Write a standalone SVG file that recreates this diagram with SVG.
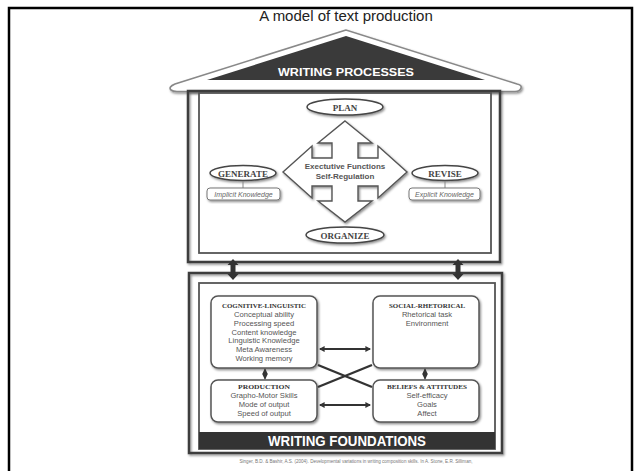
<svg xmlns="http://www.w3.org/2000/svg" width="640" height="471" viewBox="0 0 640 471">
  <defs>
    <filter id="shadow" x="-10%" y="-10%" width="130%" height="140%">
      <feDropShadow dx="1.2" dy="1.5" stdDeviation="0.9" flood-color="#000" flood-opacity="0.45"/>
    </filter>
    <marker id="head" viewBox="0 0 10 10" refX="8" refY="5" markerWidth="3.2" markerHeight="3.2" orient="auto-start-reverse">
      <path d="M0,0 L10,5 L0,10 z" fill="#333"/>
    </marker>
    <style>
      .title { font-family: "Liberation Sans", Arial, sans-serif; font-size: 15px; fill: #222; }
      .banner { font-family: "Liberation Sans", Arial, sans-serif; font-weight: bold; fill: #fff; }
      .oval { fill: #fff; stroke: #444; stroke-width: 1.5; filter: url(#shadow); }
      .oval-label { font-family: "Liberation Serif", "Times New Roman", serif; font-weight: bold; font-size: 9px; fill: #444; text-anchor: middle; }
      .know { fill: #fff; stroke: #777; stroke-width: 1; filter: url(#shadow); }
      .know-label { font-family: "Liberation Sans", Arial, sans-serif; font-style: italic; font-size: 7px; fill: #666; text-anchor: middle; }
      .box { fill: #fff; stroke: #555; stroke-width: 1.5; filter: url(#shadow); }
      .head-label { font-family: "Liberation Serif", "Times New Roman", serif; font-weight: bold; font-size: 7px; fill: #333; text-anchor: middle; }
      .item { font-family: "Liberation Sans", Arial, sans-serif; font-size: 7.6px; fill: #555; text-anchor: middle; }
      .link { stroke: #333; stroke-width: 1.8; fill: none; marker-start: url(#head); marker-end: url(#head); }
      .cross { stroke: #333; stroke-width: 2.4; fill: none; }
    </style>
  </defs>

  <rect width="640" height="471" fill="#fff"/>
  <!-- slide frame -->
  <rect x="9" y="8" width="623" height="480" fill="none" stroke="#000" stroke-width="2.5"/>

  <text class="title" x="346" y="21" text-anchor="middle">A model of text production</text>

  <!-- roof -->
  <g id="roof">
    <path d="M346,30 L175,84 Q168,87 171,90 Q173,91.5 177,91.5 L515,91.5 Q520,91.5 521,88 Q522,85 517,84 Z" fill="#fff" stroke="#888" stroke-width="1.6" filter="url(#shadow)"/>
    <polygon points="346,36 485,80 207,80" fill="#3a3a3a"/>
    <text class="banner" x="346" y="76" text-anchor="middle" font-size="11.5" textLength="136" lengthAdjust="spacingAndGlyphs">WRITING PROCESSES</text>
  </g>

  <!-- upper body: writing processes -->
  <g id="processes-frame">
    <rect x="188" y="91" width="312" height="171" fill="none" stroke="#3c3c3c" stroke-width="2.5" filter="url(#shadow)"/>
    <rect x="199" y="93" width="292" height="160" fill="#fff" stroke="#555" stroke-width="1.8"/>
  </g>

  <g id="executive">
    <path d="M345,121 L372,143 L358,143 L358,158 L378,158 L378,146 L407,172 L378,198 L378,186 L358,186 L358,201 L372,201 L345,222 L318,201 L332,201 L332,186 L312,186 L312,198 L283,172 L312,146 L312,158 L332,158 L332,143 L318,143 Z" fill="#fff" stroke="#555" stroke-width="1.4" stroke-linejoin="miter" filter="url(#shadow)"/>
    <text x="345" y="169" text-anchor="middle" font-family="Liberation Sans, Arial, sans-serif" font-weight="bold" font-size="8px" fill="#555">Exectutive Functions</text>
    <text x="345" y="179" text-anchor="middle" font-family="Liberation Sans, Arial, sans-serif" font-weight="bold" font-size="8px" fill="#555">Self-Regulation</text>
  </g>

  <g id="plan">
    <ellipse class="oval" cx="345" cy="107" rx="38" ry="8"/>
    <text class="oval-label" x="345" y="110.5">PLAN</text>
  </g>

  <g id="generate">
    <ellipse class="oval" cx="243" cy="173" rx="33" ry="7.5"/>
    <text class="oval-label" x="243" y="176.5">GENERATE</text>
    <line x1="243" y1="181" x2="243" y2="188" stroke="#888" stroke-width="1"/>
    <rect class="know" x="207" y="188" width="73" height="12" rx="3"/>
    <text class="know-label" x="243.5" y="196.5">Implicit Knowledge</text>
  </g>

  <g id="revise">
    <ellipse class="oval" cx="445" cy="173" rx="33" ry="7.5"/>
    <text class="oval-label" x="445" y="176.5">REVISE</text>
    <line x1="445" y1="181" x2="445" y2="188" stroke="#888" stroke-width="1"/>
    <rect class="know" x="409" y="188" width="71" height="12" rx="3"/>
    <text class="know-label" x="444.5" y="196.5">Explicit Knowledge</text>
  </g>

  <g id="organize">
    <ellipse class="oval" cx="345" cy="235" rx="39" ry="8"/>
    <text class="oval-label" x="345" y="238.5">ORGANIZE</text>
  </g>

  <!-- lower body: writing foundations -->
  <g id="foundations-frame">
    <rect x="189" y="273" width="313" height="180" fill="none" stroke="#3c3c3c" stroke-width="2.5" filter="url(#shadow)"/>
    <rect x="199" y="283" width="296" height="166" fill="#fff" stroke="#555" stroke-width="1.8"/>
    <rect x="199" y="432" width="296" height="17" fill="#333"/>
    <text class="banner" x="347" y="446" text-anchor="middle" font-size="14" font-weight="normal" textLength="158" lengthAdjust="spacingAndGlyphs">WRITING FOUNDATIONS</text>
  </g>

  <g id="cognitive-linguistic">
    <rect class="box" x="211" y="296" width="106" height="72" rx="7"/>
    <text class="head-label" x="264" y="308" textLength="84" lengthAdjust="spacingAndGlyphs">COGNITIVE-LINGUISTIC</text>
    <text class="item" x="264" y="317">Conceptual ability</text>
    <text class="item" x="264" y="325.8">Processing speed</text>
    <text class="item" x="264" y="334.6">Content knowledge</text>
    <text class="item" x="264" y="343.4">Linguistic Knowledge</text>
    <text class="item" x="264" y="352.2">Meta Awareness</text>
    <text class="item" x="264" y="361">Working memory</text>
  </g>

  <g id="social-rhetorical">
    <rect class="box" x="373" y="296" width="106" height="72" rx="7"/>
    <text class="head-label" x="427" y="308" textLength="76" lengthAdjust="spacingAndGlyphs">SOCIAL-RHETORICAL</text>
    <text class="item" x="427" y="317">Rhetorical task</text>
    <text class="item" x="427" y="325.8">Environment</text>
  </g>

  <g id="production">
    <rect class="box" x="211" y="380" width="106" height="42" rx="7"/>
    <text class="head-label" x="264" y="389" textLength="52" lengthAdjust="spacingAndGlyphs">PRODUCTION</text>
    <text class="item" x="264" y="398">Grapho-Motor Skills</text>
    <text class="item" x="264" y="406.8">Mode of output</text>
    <text class="item" x="264" y="415.6">Speed of output</text>
  </g>

  <g id="beliefs-attitudes">
    <rect class="box" x="373" y="380" width="106" height="42" rx="7"/>
    <text class="head-label" x="427" y="389" textLength="80" lengthAdjust="spacingAndGlyphs">BELIEFS &amp; ATTITUDES</text>
    <text class="item" x="427" y="398">Self-efficacy</text>
    <text class="item" x="427" y="406.8">Goals</text>
    <text class="item" x="427" y="415.6">Affect</text>
  </g>

  <!-- connectors -->
  <g id="connectors">
    <path d="M233,259 L238.5,265 L235.5,265 L235.5,274 L238.5,274 L233,280 L227.5,274 L230.5,274 L230.5,265 L227.5,265 Z" fill="#333"/>
    <path d="M458,259 L463.5,265 L460.5,265 L460.5,274 L463.5,274 L458,280 L452.5,274 L455.5,274 L455.5,265 L452.5,265 Z" fill="#333"/>
    <line class="link" x1="320" y1="349" x2="370" y2="349"/>
    <line class="link" x1="320" y1="405" x2="370" y2="405"/>
    <line class="link" x1="265" y1="369.5" x2="265" y2="378.5"/>
    <line class="link" x1="425" y1="369.5" x2="425" y2="378.5"/>
    <line class="cross" x1="318" y1="365" x2="372" y2="387"/>
    <line class="cross" x1="318" y1="387" x2="372" y2="365"/>
  </g>

  <text x="356" y="463" text-anchor="middle" font-family="Liberation Sans, Arial, sans-serif" font-size="4.5px" fill="#777" textLength="233" lengthAdjust="spacingAndGlyphs">Singer, B.D. &amp; Bashir, A.S. (2004). Developmental variations in writing composition skills. In A. Stone, E.R. Silliman,</text>
</svg>
